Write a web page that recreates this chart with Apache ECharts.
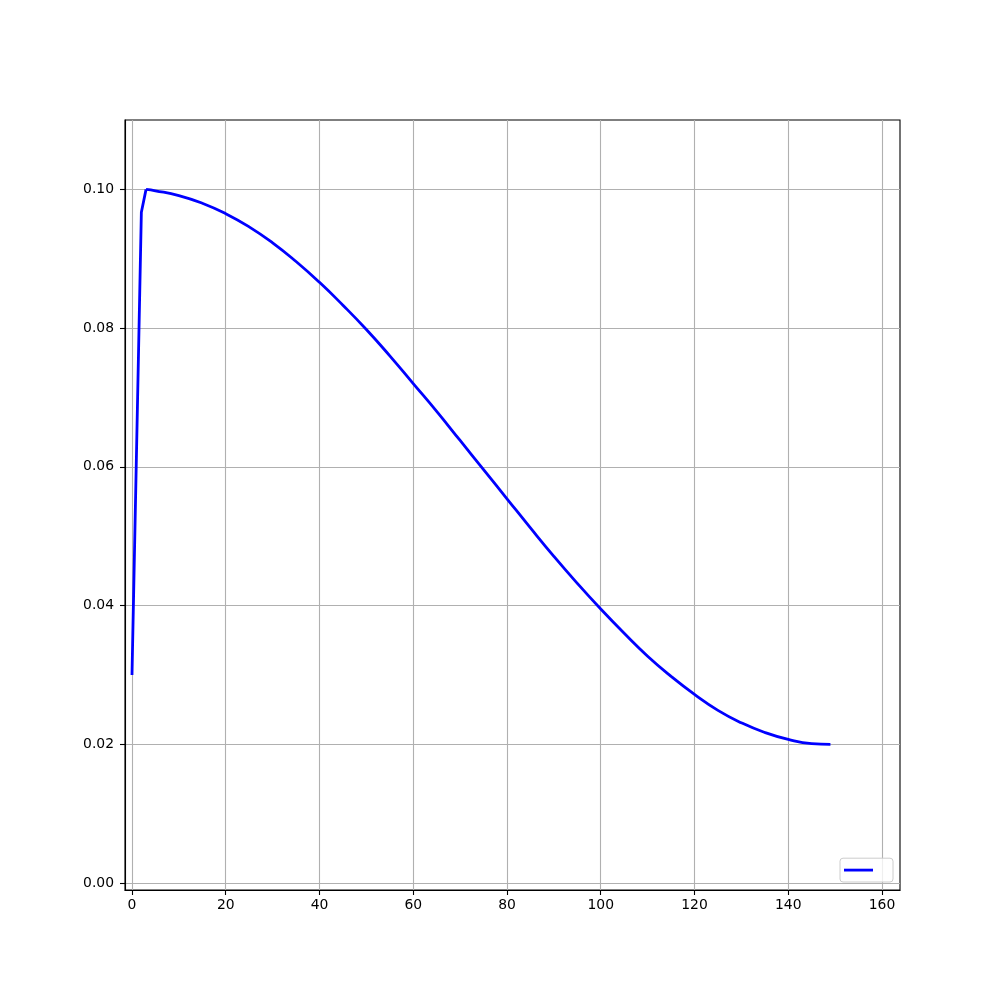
<!DOCTYPE html>
<html>
<head>
<meta charset="utf-8">
<script src="https://cdn.jsdelivr.net/npm/echarts@6/dist/echarts.min.js"></script>
<style>html,body{margin:0;padding:0;background:#fff}#c{width:1000px;height:1000px}</style>
</head>
<body>
<div id="c"></div>
<script>
const warmupEpochs = [0, 1, 2, 3];
const warmupValues = [0.0300, 0.0633, 0.0967, 0.1000];
const decayEpochs = [3, 5, 10, 15, 20, 25, 30, 35, 40, 45, 50, 55, 60, 65, 70, 75, 80, 85, 90, 95, 100, 105, 110, 115, 120, 125, 130, 135, 140, 145, 149];
const decayValues = [0.1000, 0.0998, 0.0991, 0.0980, 0.0965, 0.0946, 0.0923, 0.0896, 0.0866, 0.0833, 0.0798, 0.0760, 0.0720, 0.0680, 0.0638, 0.0596, 0.0554, 0.0512, 0.0471, 0.0432, 0.0395, 0.0360, 0.0327, 0.0298, 0.0272, 0.0249, 0.0231, 0.0217, 0.0207, 0.0201, 0.0200];
const xTicks = [0, 20, 40, 60, 80, 100, 120, 140, 160];
const yTicks = [0.00, 0.02, 0.04, 0.06, 0.08, 0.10];

const chart = echarts.init(document.getElementById('c'), null, {renderer: 'canvas'});
const font = 'DejaVu Sans';
const lineStyle = {color: '#0000ff', width: 2.8};
chart.setOption({
  animation: false,
  backgroundColor: '#ffffff',
  grid: {left: 125, right: 100, top: 120, bottom: 110, show: true, borderColor: '#000', borderWidth: 1.1, backgroundColor: 'transparent'},
  legend: {
    right: 107, bottom: 118,
    data: ['lr'],
    formatter: function () { return ''; },
    icon: 'rect',
    itemWidth: 29, itemHeight: 2.8, itemGap: 0,
    padding: [10.5, 20, 10.5, 4],
    backgroundColor: 'rgba(255,255,255,0.8)',
    borderColor: '#cccccc', borderWidth: 1, borderRadius: 3,
    textStyle: {fontSize: 13, fontFamily: font}
  },
  xAxis: {
    type: 'value', min: -1.49, max: 163.84,
    axisLine: {show: true, onZero: false, lineStyle: {color: '#000', width: 1.1}},
    axisTick: {show: true, inside: false, length: 5, lineStyle: {color: '#000', width: 1.1}, customValues: xTicks},
    axisLabel: {customValues: xTicks, color: '#000', fontSize: 13.9, fontFamily: font, margin: 8, formatter: v => String(v)},
    splitLine: {show: true, lineStyle: {color: '#b0b0b0', width: 1.1}}
  },
  yAxis: {
    type: 'value', min: -0.001, max: 0.11,
    axisLine: {show: true, onZero: false, lineStyle: {color: '#000', width: 1.1}},
    axisTick: {show: true, inside: false, length: 5, lineStyle: {color: '#000', width: 1.1}, customValues: yTicks},
    axisLabel: {customValues: yTicks, color: '#000', fontSize: 13.9, fontFamily: font, margin: 11, formatter: v => v.toFixed(2)},
    splitLine: {show: true, lineStyle: {color: '#b0b0b0', width: 1.1}}
  },
  series: [{
    name: 'lr', type: 'line', symbol: 'none', showSymbol: false,
    data: warmupEpochs.map((e, i) => [e, warmupValues[i]]),
    lineStyle: lineStyle, itemStyle: {color: '#0000ff'}
  }, {
    name: 'lr', type: 'line', symbol: 'none', showSymbol: false,
    smooth: 0.5,
    data: decayEpochs.map((e, i) => [e, decayValues[i]]),
    lineStyle: lineStyle, itemStyle: {color: '#0000ff'}
  }]
});
</script>
</body>
</html>
